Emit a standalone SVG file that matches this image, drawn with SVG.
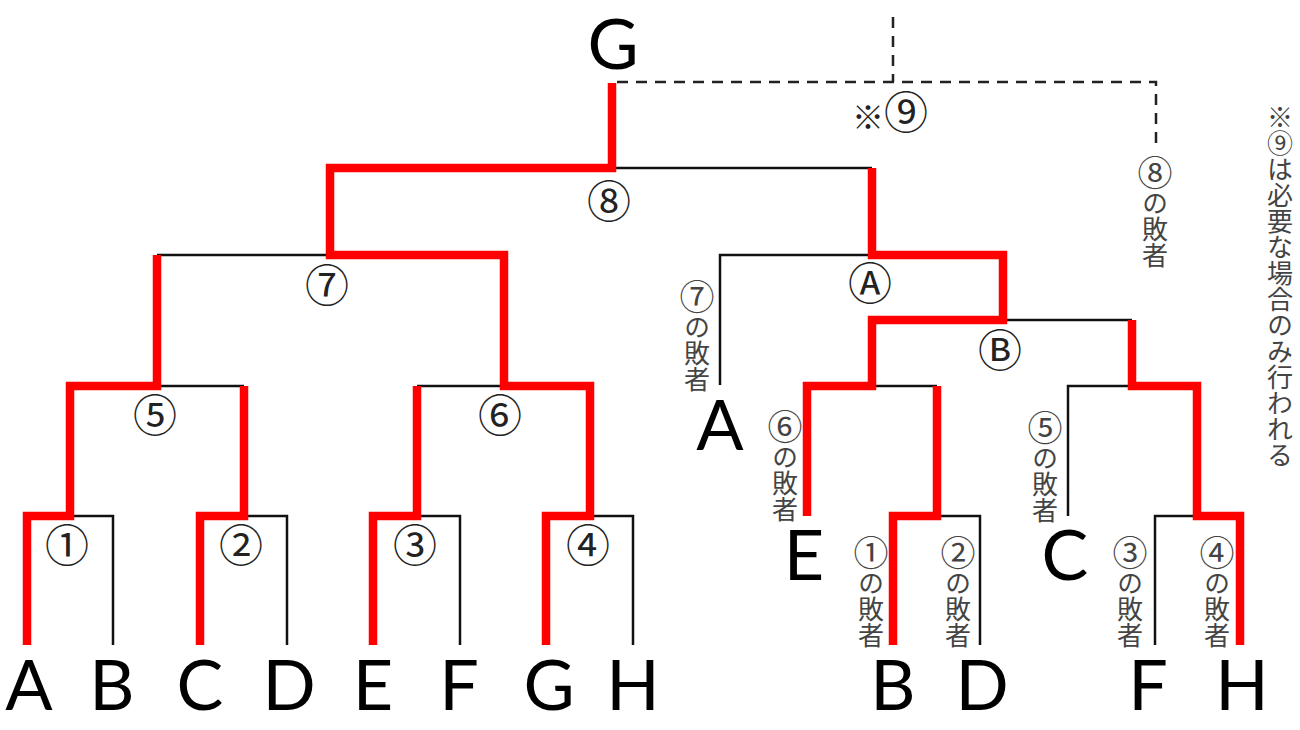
<svg xmlns="http://www.w3.org/2000/svg" width="1300" height="730" viewBox="0 0 1300 730">
<style>
.blk{fill:none;stroke:#111;stroke-width:2.5;stroke-linejoin:miter}
.red{fill:none;stroke:#ff0000;stroke-width:8.5;stroke-linejoin:miter;stroke-linecap:butt}
.dash{fill:none;stroke:#222;stroke-width:2.5;stroke-dasharray:11 8}
.team{font-family:Lato,"Liberation Sans",sans-serif;font-size:70px;text-anchor:middle;fill:#000}
.num{font-family:"Noto Sans CJK JP",sans-serif;font-size:44px;text-anchor:middle;fill:#222}
.vt{font-family:"Noto Sans CJK JP",sans-serif;font-size:26px;writing-mode:vertical-rl;fill:#444}
.cd{font-size:35px}
</style>
<rect width="1300" height="730" fill="#fff"/>
<g id="connectors">
  <path class="blk" d="M70,516 H113 V645"/>
  <path class="blk" d="M244,516 H287 V645"/>
  <path class="blk" d="M417,516 H460 V645"/>
  <path class="blk" d="M590,516 H633 V645"/>
  <path class="blk" d="M157,386 H244"/>
  <path class="blk" d="M417,386 H504"/>
  <path class="blk" d="M157,255 H330"/>
  <path class="blk" d="M612,168 H872"/>
  <path class="blk" d="M720,385 V255 H872"/>
  <path class="blk" d="M1003,320 H1132"/>
  <path class="blk" d="M872,386 H937"/>
  <path class="blk" d="M937,516 H980 V645"/>
  <path class="blk" d="M1068,516 V386 H1132"/>
  <path class="blk" d="M1155,645 V516 H1197"/>
  <path class="dash" d="M617,82 H1156 V148"/>
  <path class="dash" d="M893,17 V82"/>
  <path class="red" d="M27,645 V516 H70 V386 H157 V255"/>
  <path class="red" d="M200,645 V516 H244 V386"/>
  <path class="red" d="M373,645 V516 H417 V386"/>
  <path class="red" d="M546,645 V516 H590 V386 H504 V255 H330 V168 H612 V83"/>
  <path class="red" d="M872,168 V255 H1003 V320 H872 V386 H807 V516"/>
  <path class="red" d="M893,645 V516 H937 V386"/>
  <path class="red" d="M1240,645 V516 H1197 V386 H1132 V320"/>
</g>
<g id="champion"><text class="team" x="613" y="69">G</text></g>
<g id="team-A"><text class="team" x="29" y="710">A</text></g>
<g id="team-B"><text class="team" x="112" y="710">B</text></g>
<g id="team-C"><text class="team" x="200" y="710">C</text></g>
<g id="team-D"><text class="team" x="289" y="710">D</text></g>
<g id="team-E"><text class="team" x="373" y="710">E</text></g>
<g id="team-F"><text class="team" x="459" y="710">F</text></g>
<g id="team-G"><text class="team" x="549" y="710">G</text></g>
<g id="team-H"><text class="team" x="633" y="710">H</text></g>
<g id="m1"><text class="num" x="67" y="562">①</text></g>
<g id="m2"><text class="num" x="241" y="562">②</text></g>
<g id="m3"><text class="num" x="415" y="562">③</text></g>
<g id="m4"><text class="num" x="588" y="562">④</text></g>
<g id="m5"><text class="num" x="155" y="432">⑤</text></g>
<g id="m6"><text class="num" x="500" y="432">⑥</text></g>
<g id="m7"><text class="num" x="327" y="302">⑦</text></g>
<g id="m8"><text class="num" x="609" y="218">⑧</text></g>
<g id="m9"><text class="num" x="890" y="129"><tspan font-size="32">※</tspan>⑨</text></g>
<g id="mA"><text class="num" x="870" y="300">Ⓐ</text></g>
<g id="mB"><text class="num" x="1000" y="367">Ⓑ</text></g>
<g id="loser8"><text class="vt" x="1155" y="155"><tspan class="cd">⑧</tspan>の敗者</text></g>
<g id="loser7"><text class="vt" x="697" y="279"><tspan class="cd">⑦</tspan>の敗者</text><text class="team" x="720" y="450">A</text></g>
<g id="loser6"><text class="vt" x="785" y="409"><tspan class="cd">⑥</tspan>の敗者</text><text class="team" x="804" y="580">E</text></g>
<g id="loser5"><text class="vt" x="1045" y="410"><tspan class="cd">⑤</tspan>の敗者</text><text class="team" x="1065" y="580">C</text></g>
<g id="loser1"><text class="vt" x="871" y="535"><tspan class="cd">①</tspan>の敗者</text><text class="team" x="893" y="710">B</text></g>
<g id="loser2"><text class="vt" x="958" y="535"><tspan class="cd">②</tspan>の敗者</text><text class="team" x="982" y="710">D</text></g>
<g id="loser3"><text class="vt" x="1130" y="535"><tspan class="cd">③</tspan>の敗者</text><text class="team" x="1148" y="710">F</text></g>
<g id="loser4"><text class="vt" x="1217" y="535"><tspan class="cd">④</tspan>の敗者</text><text class="team" x="1242" y="710">H</text></g>
<g id="note"><text class="vt" x="1280" y="104" font-size="27">※⑨は必要な場合のみ行われる</text></g>
</svg>
